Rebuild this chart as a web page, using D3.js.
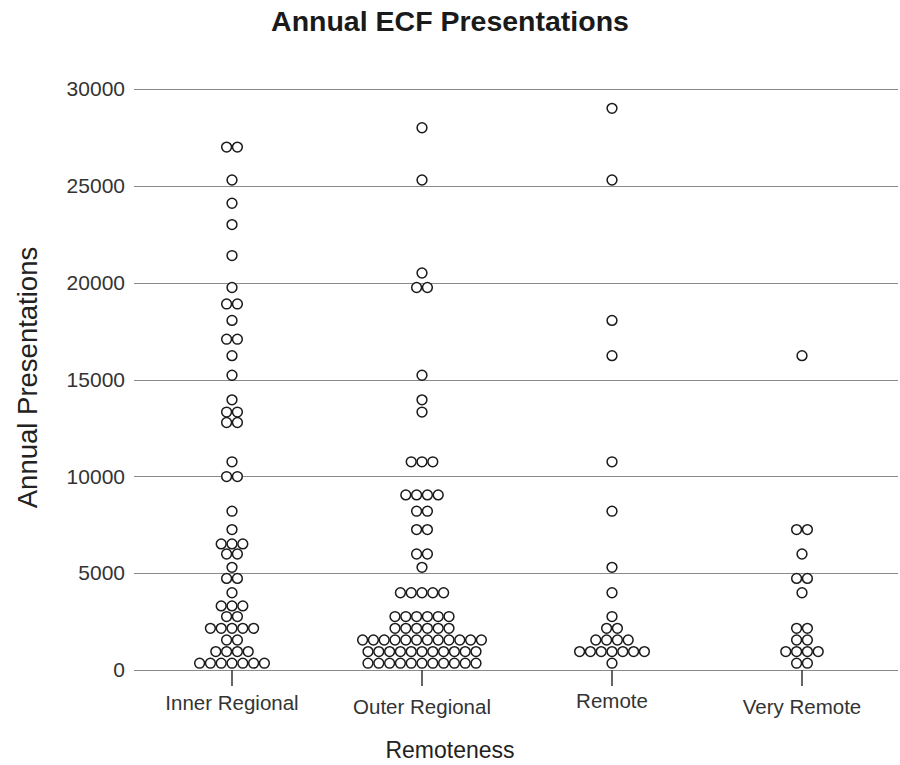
<!DOCTYPE html>
<html>
<head>
<meta charset="utf-8">
<script src="https://cdn.jsdelivr.net/npm/d3@7"></script>
<style>
    body { margin: 0; background: #fff; }
    text { font-family: "Liberation Sans", Arial, Helvetica, sans-serif; }
</style>
</head>
<body>
<svg id="chart" width="900" height="765"></svg>
<script>
// one entry per dot
const groups = ['Inner Regional', 'Outer Regional', 'Remote', 'Very Remote'];
const innerRegional = [
    27000, 27000, 25300, 24100, 23000, 21400, 19750, 18900, 18900, 18050, 17080, 17080,
    16230, 15220, 13950, 13320, 13320, 12780, 12780, 10750, 9990, 9990, 8200, 7250,
    6510, 6510, 6510, 5990, 5990, 5300, 4730, 4730, 3990, 3310, 3310, 3310, 2760, 2760,
    2150, 2150, 2150, 2150, 2150, 1550, 1550, 950, 950, 950, 950,
    350, 350, 350, 350, 350, 350, 350,
];
const outerRegional = [
    28000, 25300, 20500, 19750, 19750, 15220, 13950, 13320, 10750, 10750, 10750,
    9040, 9040, 9040, 9040, 8200, 8200, 7250, 7250, 5990, 5990, 5300,
    3990, 3990, 3990, 3990, 3990,
    2760, 2760, 2760, 2760, 2760, 2760,
    2150, 2150, 2150, 2150, 2150, 2150,
    1550, 1550, 1550, 1550, 1550, 1550, 1550, 1550, 1550, 1550, 1550, 1550,
    950, 950, 950, 950, 950, 950, 950, 950, 950, 950, 950,
    350, 350, 350, 350, 350, 350, 350, 350, 350, 350, 350,
];
const remote = [
    29000, 25300, 18050, 16230, 10750, 8200, 5300, 3990, 2760, 2150, 2150,
    1550, 1550, 1550, 1550, 950, 950, 950, 950, 950, 950, 950, 350,
];
const veryRemote = [
    16230, 7250, 7250, 5990, 4730, 4730, 3990, 2150, 2150, 1550, 1550,
    950, 950, 950, 950, 350, 350,
];
const seriesValues = [innerRegional, outerRegional, remote, veryRemote];
const yTicks = [0, 5000, 10000, 15000, 20000, 25000, 30000];

const svg = d3.select('#chart');
const plotLeft = 137;
const plotRight = 897;
const plotTop = 89;
const plotBottom = 670;
const dotStep = 10.8;
const radius = 4.9;
// the category labels sit a little unevenly in the original
const labelShift = [-2, 2, -4, 2];

const x = d3.scaleBand().domain(groups).range([plotLeft, plotRight]);
const y = d3.scaleLinear().domain([0, 30000]).range([plotBottom, plotTop]);

// title
svg.append('text')
    .attr('x', 450)
    .attr('y', 31)
    .attr('text-anchor', 'middle')
    .attr('font-size', '28.5px')
    .attr('font-weight', 'bold')
    .attr('fill', '#1a1a1a')
    .text('Annual ECF Presentations');

// grid lines
svg.append('g')
    .selectAll('line')
    .data(yTicks)
    .join('line')
    .attr('x1', plotLeft - 3)
    .attr('x2', plotRight + 1)
    .attr('y1', (d) => Math.round(y(d)) + 0.5)
    .attr('y2', (d) => Math.round(y(d)) + 0.5)
    .attr('stroke', '#8a8a8a')
    .attr('stroke-width', 1);

// y axis labels
const yAxis = svg.append('g')
    .attr('transform', `translate(${plotLeft - 3},0)`)
    .call(d3.axisLeft(y).tickValues(yTicks).tickSize(0).tickPadding(9).tickFormat(d3.format('d')));
yAxis.select('.domain').remove();
yAxis.selectAll('text')
    .attr('font-size', '21px')
    .attr('font-family', '"Liberation Sans", Arial, sans-serif')
    .attr('fill', '#333');

// x axis ticks and labels
const xAxis = svg.append('g')
    .attr('transform', `translate(0,${plotBottom})`)
    .call(d3.axisBottom(x).tickSize(16).tickPadding(11));
xAxis.select('.domain').remove();
xAxis.selectAll('.tick line').attr('stroke', '#333').attr('stroke-width', 1.5);
xAxis.selectAll('text')
    .attr('font-size', '20.5px')
    .attr('font-family', '"Liberation Sans", Arial, sans-serif')
    .attr('fill', '#333')
    .attr('transform', (d, i) => `translate(0,${labelShift[i]})`);

// axis titles
svg.append('text')
    .attr('x', 450)
    .attr('y', 758)
    .attr('text-anchor', 'middle')
    .attr('font-size', '23px')
    .attr('fill', '#222')
    .text('Remoteness');

svg.append('text')
    .attr('transform', `translate(37,${(plotTop + plotBottom) / 2 - 2}) rotate(-90)`)
    .attr('text-anchor', 'middle')
    .attr('font-size', '27.5px')
    .attr('fill', '#222')
    .text('Annual Presentations');

// dots: equal values share a row, centred on the category
const dots = [];
groups.forEach((g, gi) => {
    const rows = d3.rollup(seriesValues[gi], (v) => v.length, (d) => d);
    rows.forEach((n, value) => {
        for (let i = 0; i < n; i++) {
            dots.push({ group: g, value, offset: (i - (n - 1) / 2) * dotStep });
        }
    });
});

svg.append('g')
    .selectAll('circle')
    .data(dots)
    .join('circle')
    .attr('cx', (d) => x(d.group) + x.bandwidth() / 2 + d.offset)
    .attr('cy', (d) => y(d.value))
    .attr('r', radius)
    .attr('fill', '#fff')
    .attr('stroke', '#1a1a1a')
    .attr('stroke-width', 1.5);
</script>
</body>
</html>
